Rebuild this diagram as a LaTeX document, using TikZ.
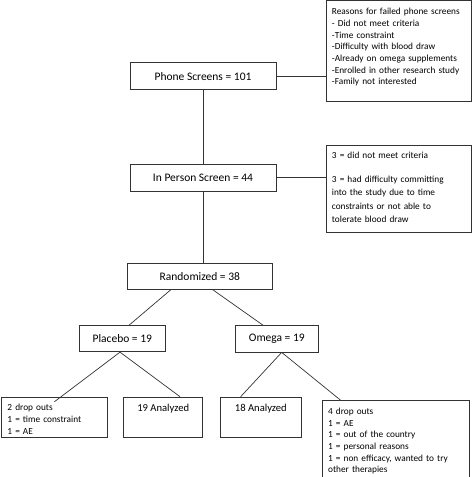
\documentclass[tikz,border=0pt]{standalone}
\usepackage{fontspec}
\setmainfont{Carlito}
\begin{document}
\begin{tikzpicture}[x=1pt, y=-1pt,
  every node/.style={draw=black!80, line width=0.9pt, rectangle, inner sep=0pt},
  stage/.style={font=\fontsize{11.5}{13.8}\selectfont},
  notebox/.style={anchor=north west, align=left, inner xsep=6pt, text width=#1, font=\fontsize{9.3}{11.67}\selectfont},
  count/.style={anchor=north, font=\fontsize{10.6}{12.7}\selectfont, text height=14pt, text depth=26pt},
  link/.style={draw=black!80, line width=0.7pt}]
\useasboundingbox (0,0) rectangle (472,477);
\node [stage, minimum width=146pt, minimum height=27pt] (phone) at (203,76.3) {Phone Screens = 101};
\node [stage, minimum width=146pt, minimum height=26.7pt] (inperson) at (203,177.7) {In Person Screen = 44};
\node [stage, minimum width=145pt, minimum height=25.6pt] (randomized) at (199.8,276.5) {Randomized = 38};
\node [stage, minimum width=86.7pt, minimum height=26pt] (placebo) at (122.3,338.7) {Placebo = 19};
\node [stage, minimum width=83pt, minimum height=26.3pt] (omega) at (276.8,338.8) {Omega = 19};
\node [notebox=133pt, text height=14.3pt, text depth=86.7pt] (reasons) at (325.5,0) {Reasons for failed phone screens\\
  - Did not meet criteria\\
  -Time constraint\\
  -Difficulty with blood draw\\
  -Already on omega supplements\\
  -Enrolled in other research study\\
  -Family not interested};
\node [notebox=133pt, text height=13pt, text depth=74pt, font=\fontsize{9.3}{13.4}\selectfont] (excluded) at (325.5,145) {3 = did not meet criteria\\[10.6pt]
  3 = had difficulty committing\\
  into the study due to time\\
  constraints or not able to\\
  tolerate blood draw};
\node [notebox=94pt, text height=13.6pt, text depth=26.4pt] (placebodrop) at (1,396.7) {2 drop outs\\
  1 = time constraint\\
  1 = AE};
\node [count, minimum width=79pt] (placeboanalyzed) at (163.2,396.7) {19 Analyzed};
\node [count, minimum width=81.7pt] (omegaanalyzed) at (260.85,396.7) {18 Analyzed};
\node [notebox=135pt, text height=14pt, text depth=62.7pt] (omegadrop) at (321.7,400) {4 drop outs\\
  1 = AE\\
  1 = out of the country\\
  1 = personal reasons\\
  1 = non efficacy, wanted to try\\
  other therapies};
\draw [link] (phone.east) -- (phone.east -| reasons.west);
\draw [link] (phone.south) -- (inperson.north);
\draw [link] (inperson.east) -- (inperson.east -| excluded.west);
\draw [link] (inperson.south) -- (inperson.south |- randomized.north);
\draw [link] ([xshift=-29pt]randomized.south) -- ([xshift=6.7pt]placebo.north);
\draw [link] ([xshift=13pt]randomized.south) -- ([xshift=-13.8pt]omega.north);
\draw [link] ([xshift=-2.3pt]placebo.south) -- ([yshift=-5pt]placebodrop.north);
\draw [link] ([xshift=-2.3pt]placebo.south) -- ([xshift=16.8pt]placeboanalyzed.north);
\draw [link] ([xshift=4.9pt]omega.south) -- ([xshift=-20.2pt]omegaanalyzed.north);
\draw [link] ([xshift=4.9pt]omega.south) -- ([xshift=-55.3pt]omegadrop.north);
\end{tikzpicture}
\end{document}
